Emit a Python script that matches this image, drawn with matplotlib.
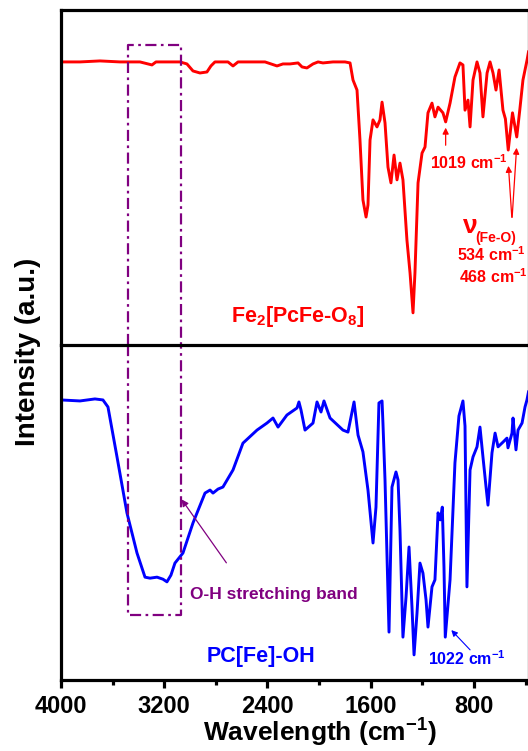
import matplotlib
matplotlib.use("Agg")
import matplotlib.pyplot as plt
from matplotlib.ticker import FixedLocator

plt.rcParams['font.family'] = ['Liberation Sans', 'DejaVu Sans']
plt.rcParams['font.weight'] = 'bold'
plt.rcParams['mathtext.fontset'] = 'custom'
plt.rcParams['mathtext.rm'] = 'Liberation Sans:bold'
plt.rcParams['mathtext.bf'] = 'Liberation Sans:bold'
plt.rcParams['mathtext.default'] = 'bf'

# FTIR spectra, wavenumber (cm-1) vs relative transmittance (0-100 per panel)
wn_fe2 = [4000, 3853, 3698, 3543, 3388, 3295, 3264, 3078, 3024, 2977, 2923, 2869,
          2838, 2807, 2706, 2667, 2628, 2419, 2326, 2280, 2225, 2163, 2132, 2094,
          2047, 2008, 1970, 1892, 1799, 1760, 1737, 1706, 1683, 1660, 1636, 1621,
          1605, 1582, 1551, 1528, 1512, 1489, 1466, 1443, 1419, 1396, 1373, 1350,
          1319, 1295, 1272, 1257, 1233, 1202, 1179, 1156, 1125, 1102, 1078, 1040,
          1019, 985, 947, 908, 885, 869, 846, 830, 807, 776, 753, 730, 698, 675,
          652, 629, 605, 575, 556, 534, 520, 501, 468, 445, 420, 388, 377]
t_fe2 = [84.5, 84.5, 84.8, 84.5, 84.5, 83.6, 84.5, 84.5, 83.9, 81.8, 81.2, 81.5,
         83.3, 84.5, 84.5, 83.3, 84.5, 84.5, 83.3, 83.9, 83.9, 84.2, 83.0, 82.7,
         83.9, 84.5, 84.2, 84.5, 84.5, 84.2, 79.1, 76.1, 61.2, 43.3, 38.2, 41.8,
         61.2, 67.2, 65.1, 67.2, 72.5, 66.3, 53.1, 48.4, 56.7, 49.3, 54.3, 49.3,
         31.3, 21.5, 9.6, 21.5, 48.4, 57.3, 59.1, 69.3, 72.2, 68.1, 71.0, 69.3,
         66.6, 72.2, 80.0, 84.2, 83.6, 70.1, 73.1, 65.1, 79.1, 84.5, 81.2, 68.1,
         81.2, 84.5, 81.2, 76.1, 82.1, 70.1, 67.5, 58.2, 63.0, 69.3, 62.1, 70.0,
         79.1, 85.1, 87.5]

wn_oh = [4000, 3853, 3737, 3675, 3636, 3566, 3489, 3411, 3349, 3310, 3256, 3210,
         3179, 3148, 3117, 3055, 2977, 2884, 2845, 2822, 2783, 2745, 2667, 2590,
         2481, 2404, 2357, 2318, 2249, 2171, 2156, 2140, 2109, 2047, 2016, 1985,
         1962, 1915, 1815, 1776, 1729, 1698, 1660, 1621, 1582, 1559, 1536, 1512,
         1505, 1489, 1458, 1435, 1404, 1388, 1373, 1350, 1326, 1303, 1280, 1264,
         1241, 1218, 1195, 1171, 1156, 1125, 1102, 1078, 1060, 1045, 1032, 1022,
         985, 947, 916, 885, 869, 854, 830, 807, 776, 753, 730, 706, 691, 660,
         636, 613, 575, 544, 536, 505, 497, 474, 458, 427, 404, 389, 377]
t_oh = [83.6, 83.3, 83.9, 83.6, 81.5, 66.6, 49.9, 37.9, 30.7, 30.4, 30.7, 30.1,
        29.3, 31.3, 34.9, 37.9, 46.9, 55.8, 56.7, 55.8, 57.0, 57.6, 62.7, 70.7,
        74.6, 76.7, 78.2, 75.5, 79.1, 81.2, 83.0, 80.6, 74.6, 76.7, 83.0, 80.0,
        83.3, 78.2, 74.6, 74.0, 83.0, 73.1, 68.1, 56.7, 40.9, 51.6, 82.7, 83.3,
        76.7, 59.7, 14.3, 57.6, 62.1, 59.7, 44.8, 12.8, 24.8, 39.7, 21.8, 7.5,
        20.0, 34.9, 31.9, 23.9, 15.8, 27.8, 29.9, 49.9, 47.8, 51.6, 33.7, 12.8,
        29.9, 64.8, 78.8, 83.3, 75.8, 27.8, 62.7, 66.6, 69.6, 75.5, 66.6, 57.6,
        52.2, 67.8, 73.7, 69.6, 71.0, 72.2, 69.3, 73.7, 78.2, 68.7, 74.6, 76.7,
        81.5, 83.6, 86.0]

major_ticks = [4000, 3200, 2400, 1600, 800]
minor_ticks = [3600, 2800, 2000, 1200, 400]

# O-H band box limits (cm-1) and its top/bottom in panel units
box_wn = (3480, 3070)
box_top = 89.6
box_bottom = 19.4

W, H = 528, 751
fig = plt.figure(figsize=(W / 100, H / 100), dpi=100)
left, right = 61, 528.5
ax1 = fig.add_axes([left / W, (H - 345) / H, (right - left) / W, 335 / H])
ax2 = fig.add_axes([left / W, (H - 680) / H, (right - left) / W, 335 / H], sharex=ax1)

ax1.plot(wn_fe2, t_fe2, color='#ff0000', lw=2.1)
ax2.plot(wn_oh, t_oh, color='#0000ff', lw=2.1)

for ax in (ax1, ax2):
    ax.set_xlim(4000, 377)
    ax.set_ylim(0, 100)
    ax.set_yticks([])
    for s in ax.spines.values():
        s.set_linewidth(2.3)
ax1.spines['bottom'].set_visible(False)
ax1.tick_params(axis='x', which='both', bottom=False, labelbottom=False)

ax2.xaxis.set_major_locator(FixedLocator(major_ticks))
ax2.xaxis.set_minor_locator(FixedLocator(minor_ticks))
ax2.tick_params(axis='x', which='major', length=6, width=2.3, direction='out',
                labelsize=17, pad=5)
ax2.tick_params(axis='x', which='minor', length=3.5, width=2.3, direction='out')
for lab in ax2.get_xticklabels():
    lab.set_fontweight('bold')

# dash-dot box over the O-H stretching region, split across both panels
purple = '#800080'
box_style = dict(color=purple, lw=1.6, dashes=(5, 2, 1.2, 2), clip_on=False)
ax1.plot([box_wn[0], box_wn[0], box_wn[1], box_wn[1]], [0, box_top, box_top, 0], **box_style)
ax2.plot([box_wn[0], box_wn[0], box_wn[1], box_wn[1]], [100, box_bottom, box_bottom, 100], **box_style)

ax2.annotate('', xy=(3078, 54.6), xytext=(2706, 34.3),
             arrowprops=dict(arrowstyle='-|>', color=purple, lw=0.9, mutation_scale=10))
ax2.text(3000, 25.4, 'O-H stretching band', color=purple, fontsize=12.5,
         fontweight='bold', ha='left', va='center')

# sample labels
ax1.text(2163, 8.5, r'Fe$_2$[PcFe-O$_8$]', color='#ff0000', fontsize=15.5,
         fontweight='bold', ha='center', va='center')
ax2.text(2450, 6.9, 'PC[Fe]-OH', color='#0000ff', fontsize=15.5,
         fontweight='bold', ha='center', va='center')

# peak markers
red = '#ff0000'
ax1.annotate('', xy=(1019, 65.7), xytext=(1019, 58.8),
             arrowprops=dict(arrowstyle='-|>', color=red, lw=0.9, mutation_scale=9))
ax1.text(1140, 54.3, r'1019 cm$^{-1}$', color=red, fontsize=11.5, ha='left', va='center')
ax1.annotate('', xy=(534, 54.3), xytext=(505, 37.3),
             arrowprops=dict(arrowstyle='-|>', color=red, lw=0.9, mutation_scale=9))
ax1.annotate('', xy=(468, 59.7), xytext=(505, 37.3),
             arrowprops=dict(arrowstyle='-|>', color=red, lw=0.9, mutation_scale=9))
ax1.text(830, 35.5, '\u03bd', color=red, fontsize=19, ha='center', va='center')
ax1.text(791, 32.0, '(Fe-O)', color=red, fontsize=10, ha='left', va='center')
ax1.text(931, 27.0, r'534 cm$^{-1}$', color=red, fontsize=11.5, ha='left', va='center')
ax1.text(915, 20.4, r'468 cm$^{-1}$', color=red, fontsize=11.5, ha='left', va='center')

ax2.annotate('', xy=(990, 15.5), xytext=(815, 8.4),
             arrowprops=dict(arrowstyle='-|>', color='#0000ff', lw=0.8, mutation_scale=9))
ax2.text(1156, 6.4, r'1022 cm$^{-1}$', color='#0000ff', fontsize=11.5, ha='left', va='center')

fig.text(28 / W, 1 - 352 / H, 'Intensity (a.u.)', rotation=90, fontsize=20,
         fontweight='bold', ha='center', va='center')
fig.text(320 / W, 1 - 733 / H, r'Wavelength (cm$^{-1}$)', fontsize=19,
         fontweight='bold', ha='center', va='center')

fig.savefig('out.png', dpi=100)
